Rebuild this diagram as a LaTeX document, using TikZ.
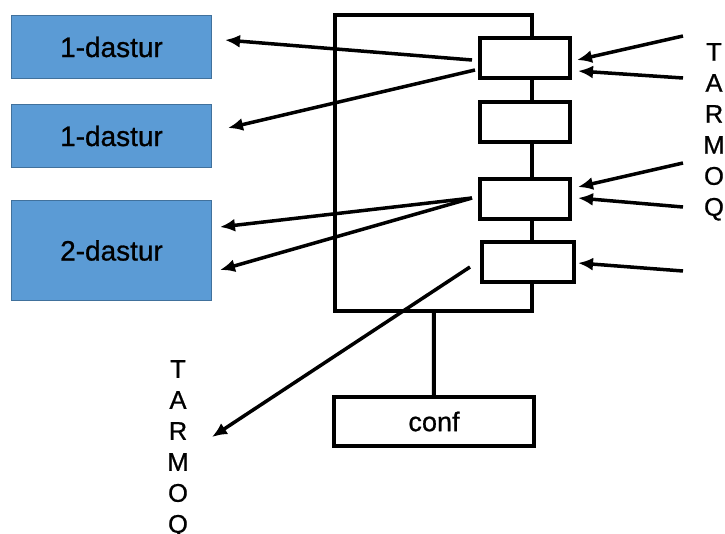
\documentclass[tikz,border=0pt]{standalone}
\usepackage{fontspec}
\setmainfont{Liberation Sans}[FakeBold=0.8]
\usetikzlibrary{arrows.meta}
\definecolor{dasturblue}{HTML}{5B9BD5}
\definecolor{dasturedge}{HTML}{41719C}

\begin{document}
\begin{tikzpicture}[x=1pt, y=-1pt, >={Latex[length=15pt,width=13pt]},
        dastur/.style={draw=dasturedge, fill=dasturblue, line width=1.5pt, minimum width=200pt, inner sep=0pt, font=\fontsize{28}{30}\selectfont},
        blk/.style={draw, line width=4pt, fill=white, inner sep=0pt},
        wire/.style={line width=3.5pt},
        letters/.style={inner sep=0pt, align=center, font=\fontsize{25.5}{31}\selectfont}]
            \useasboundingbox (0,0) rectangle (725,533);

            % programs on the left
            \node[dastur, minimum height=63pt] (b1) at (111.5, 47) { 1-dastur };
            \node[dastur, minimum height=63pt] (b2) at (111.5, 136) { 1-dastur };
            \node[dastur, minimum height=100pt] (b3) at (111.5, 250.5) { 2-dastur };

            % frame with its ports
            \node[blk, fill=none, minimum width=197.5pt, minimum height=296pt] (frame) at (433.7, 163) {};
            \node[blk, minimum width=90pt, minimum height=40pt] (s1) at (525, 57.5) {};
            \node[blk, minimum width=90pt, minimum height=40pt] (s2) at (525, 122) {};
            \node[blk, minimum width=90pt, minimum height=40pt] (s3) at (525, 199) {};
            \node[blk, minimum width=92pt, minimum height=40pt] (s4) at (528, 262) {};
            \node[blk, minimum width=200pt, minimum height=49pt, font=\fontsize{27}{30}\selectfont] (conf) at (434, 421.5) { conf };
            \draw[line width=4pt] (frame) -- (conf);

            % network labels
            \node[letters, anchor=north] (tarmoq1) at (714, 43) { T\\A\\R\\M\\O\\Q };
            \node[letters, anchor=north] (tarmoq2) at (178, 360) { T\\A\\R\\M\\O\\Q };

            % free ends of the arrows
            \coordinate (s1a) at (472, 60);
            \coordinate (s1b) at (475, 70);
            \coordinate (s3a) at (472, 198);
            \coordinate (s4a) at (470, 267);
            \coordinate (b1in) at (225, 40);
            \coordinate (b2in) at (228, 128);
            \coordinate (b3in1) at (220, 227);
            \coordinate (b3in2) at (220, 270);
            \coordinate (out) at (212, 437);
            \coordinate (in1) at (683, 36);
            \coordinate (in2) at (683, 78);
            \coordinate (in3) at (683, 163);
            \coordinate (in4) at (683, 207);
            \coordinate (in5) at (683, 271);
            \coordinate (s1r1) at (577, 60);
            \coordinate (s1r2) at (578, 71);
            \coordinate (s3r1) at (578, 187);
            \coordinate (s3r2) at (578, 198);
            \coordinate (s4r) at (578, 263);

            \draw[wire, ->] (s1a) -- (b1in);
            \draw[wire, ->] (s1b) -- (b2in);
            \draw[wire, ->] (s3a) -- (b3in1);
            \draw[wire, ->] (s3a) -- (b3in2);
            \draw[wire, ->] (s4a) -- (out);
            \draw[wire, ->] (in1) -- (s1r1);
            \draw[wire, ->] (in2) -- (s1r2);
            \draw[wire, ->] (in3) -- (s3r1);
            \draw[wire, ->] (in4) -- (s3r2);
            \draw[wire, ->] (in5) -- (s4r);
\end{tikzpicture}
\end{document}
